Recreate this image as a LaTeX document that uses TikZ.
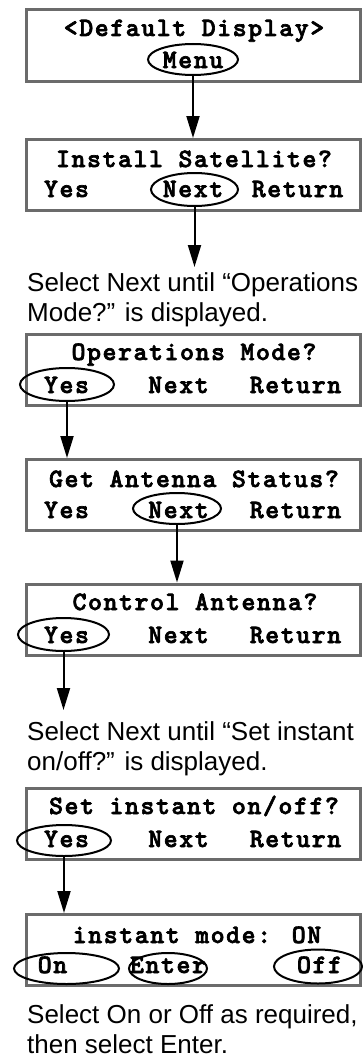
\documentclass[tikz,border=0pt]{standalone}
\usepackage{fontspec}
\setmainfont{Liberation Sans}
\newfontfamily\lcdfont{lmmonolt10-bold.otf}[FakeBold=2.5,LetterSpace=6]
\usetikzlibrary{shapes.geometric,arrows.meta}
\begin{document}
\begin{tikzpicture}[x=1pt,y=-1pt,
  screen/.style={draw=black!58,line width=3pt,minimum width=334pt,minimum height=71pt,inner sep=0pt},
  lcd/.style={font=\lcdfont\fontsize{26.5}{30}\selectfont,inner sep=0pt,anchor=base},
  sel/.style={draw,ellipse,line width=2pt,inner sep=0pt},
  note/.style={font=\fontsize{26}{30}\selectfont,inner sep=0pt,anchor=base west},
  flow/.style={line width=2pt,-{Triangle[length=22pt,width=13pt]}}]
\useasboundingbox (0,0) rectangle (363,1057);
% screen 1
\node[screen] (s1) at (193,45.5) {};
\node[lcd] (t1) at (194,36) {<Default Display>};
\node[sel,minimum width=90pt,minimum height=31pt] (e1) at (193,59.5) {};
\node[lcd] (k1) at (193,68) {Menu};
% screen 2
\node[screen] (s2) at (193,175) {};
\node[lcd] (t2) at (194,167) {Install Satellite?};
\node[lcd] (y2) at (66.5,197) {Yes};
\node[lcd] (n2) at (193,197) {Next};
\node[lcd] (r2) at (297.5,197) {Return};
\node[sel,minimum width=87pt,minimum height=33pt] (e2) at (194.5,189.5) {};
\coordinate (c2) at (194.5,267);
% note 1
\node[note] (m1) at (27,291) {Select Next until “Operations};
\node[note] (m2) at (27,321) {Mode?” is displayed.};
% screen 3
\node[screen] (s3) at (193,369.5) {};
\node[lcd] (t3) at (194,360) {Operations Mode?};
\node[lcd] (y3) at (66.5,393) {Yes};
\node[lcd] (n3) at (178.5,393) {Next};
\node[lcd] (r3) at (295.5,393) {Return};
\node[sel,minimum width=94pt,minimum height=33pt] (e3) at (67,384.5) {};
% screen 4
\node[screen] (s4) at (193,495) {};
\node[lcd] (t4) at (194,487) {Get Antenna Status?};
\node[lcd] (y4) at (66.5,518) {Yes};
\node[lcd] (n4) at (178.5,518) {Next};
\node[lcd] (r4) at (295.5,518) {Return};
\node[sel,minimum width=88pt,minimum height=31pt] (e4) at (177,508.5) {};
% screen 5
\node[screen] (s5) at (193,619.5) {};
\node[lcd] (t5) at (195,610) {Control Antenna?};
\node[lcd] (y5) at (66.5,643) {Yes};
\node[lcd] (n5) at (178.5,643) {Next};
\node[lcd] (r5) at (295.5,643) {Return};
\node[sel,minimum width=91pt,minimum height=33pt] (e5) at (63.5,634.5) {};
\coordinate (c5) at (63.5,710);
% note 2
\node[note] (m3) at (27,740) {Select Next until “Set instant};
\node[note] (m4) at (27,770) {on/off?” is displayed.};
% screen 6
\node[screen] (s6) at (193,823.5) {};
\node[lcd] (t6) at (194,814) {Set instant on/off?};
\node[lcd] (y6) at (66.5,847) {Yes};
\node[lcd] (n6) at (178.5,847) {Next};
\node[lcd] (r6) at (295.5,847) {Return};
\node[sel,minimum width=94pt,minimum height=31pt] (e6) at (64,840.5) {};
% screen 7
\node[screen] (s7) at (193,950) {};
\node[lcd] (t7) at (197,943) {instant mode: ON};
\node[lcd] (o7) at (52.5,973) {On};
\node[lcd] (x7) at (168,973) {Enter};
\node[lcd] (f7) at (319.5,973) {Off};
\node[sel,minimum width=105pt,minimum height=31pt] (e7a) at (66.5,968.5) {};
\node[sel,minimum width=78pt,minimum height=31pt] (e7b) at (168,968.5) {};
\node[sel,minimum width=88pt,minimum height=34pt] (e7c) at (318,966.5) {};
% note 3
\node[note] (m5) at (27,1023) {Select On or Off as required,};
\node[note] (m6) at (27,1053) {then select Enter.};
% connectors
\draw[flow] (e1.south) -- (e1.south |- s2.north);
\draw[flow] (e2.south) -- (c2);
\draw[flow] (e3.south) -- (e3.south |- s4.north);
\draw[flow] (e4.south) -- (e4.south |- s5.north);
\draw[flow] (e5.south) -- (c5);
\draw[flow] (e6.south) -- (e6.south |- s7.north);
\end{tikzpicture}
\end{document}
